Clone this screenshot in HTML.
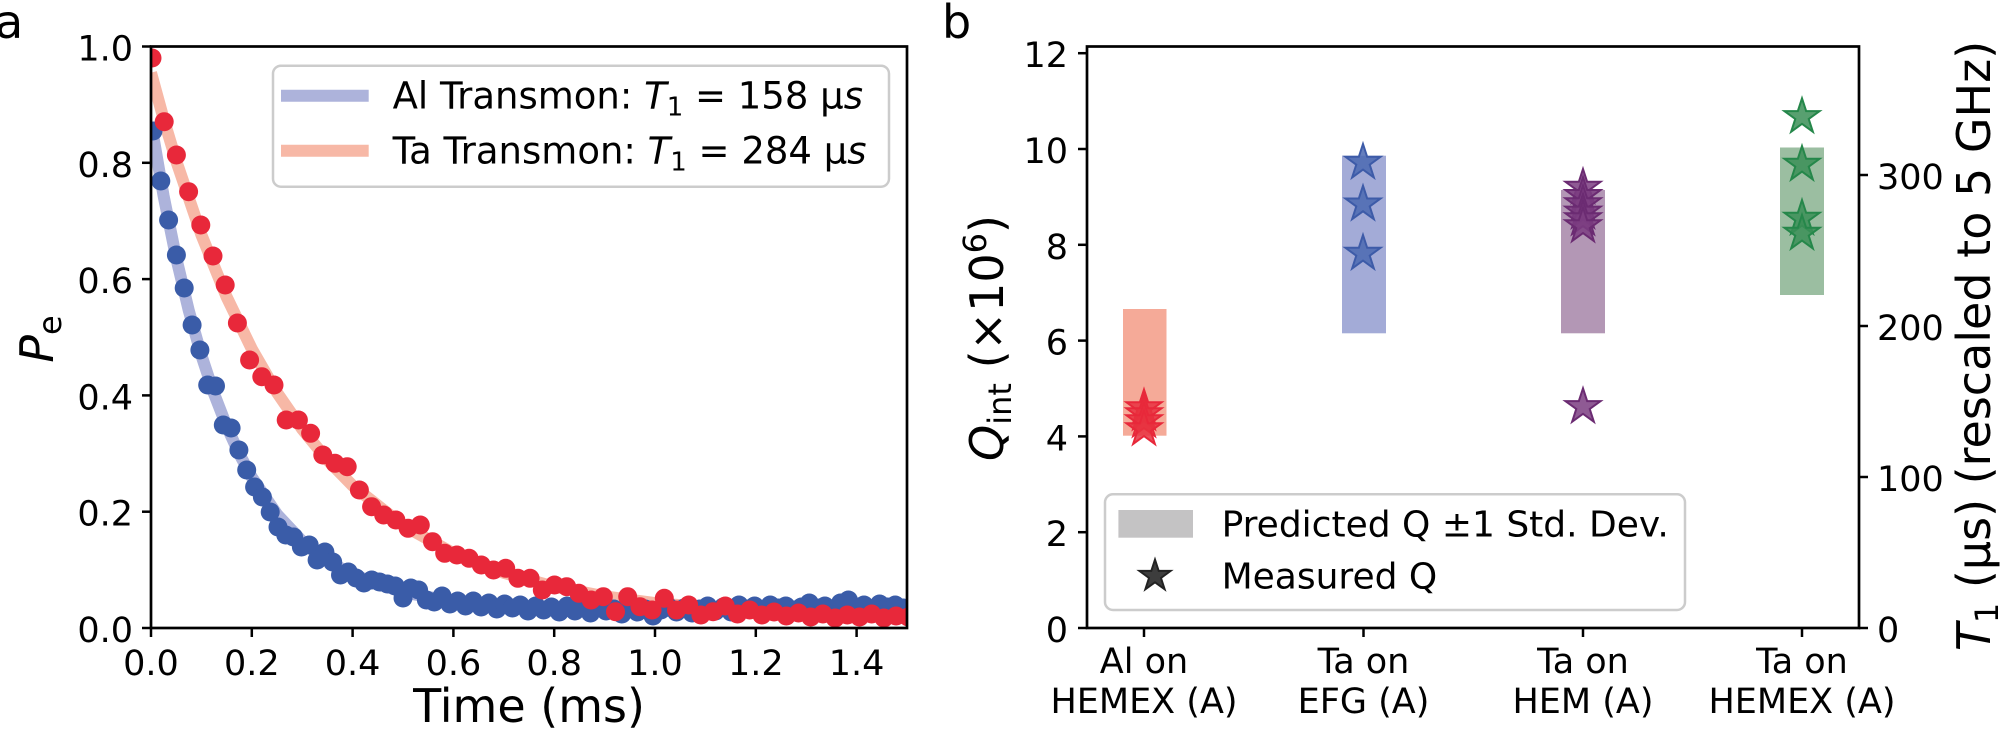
<!DOCTYPE html>
<html><head><meta charset="utf-8"><style>
html,body{margin:0;padding:0;background:#fff;}
svg{display:block;}
text{font-family:"DejaVu Sans","Liberation Sans",sans-serif;fill:#000;}
</style></head><body>
<svg width="2000" height="737" viewBox="0 0 2000 737" xmlns="http://www.w3.org/2000/svg">
<defs>
<clipPath id="ca"><rect x="151" y="46.5" width="756" height="581.5"/></clipPath>
<path id="st" d="M0,-18.5 L4.16,-5.72 L17.59,-5.72 L6.72,2.18 L10.87,14.97 L0,7.07 L-10.87,14.97 L-6.72,2.18 L-17.59,-5.72 L-4.16,-5.72 Z"/>
</defs>
<rect width="2000" height="737" fill="#fff"/>

<!-- Panel labels -->
<text x="-5" y="38" font-size="46">a</text>
<text x="942" y="38" font-size="46">b</text>

<!-- ===== Panel a ===== -->
<g clip-path="url(#ca)">
<polyline fill="none" stroke="#adb3db" stroke-width="12" points="151,123.2 163.6,195.9 176.2,257.9 188.8,310.6 201.4,355.4 214,393.6 226.6,426.1 239.2,453.7 251.8,477.3 277,514.3 302.2,541.2 327.4,560.6 352.6,574.7 403,592.3 453.4,601.5 503.8,606.4 554.2,608.9 655,610.9 907,611.7"/>
<polyline fill="none" stroke="#f7b8a6" stroke-width="12" points="151,72.7 163.6,118.8 176.2,160.9 201.4,234.9 226.6,296.9 251.8,349 277,392.6 302.2,429.2 327.4,459.9 352.6,485.6 403,525.3 453.4,553.2 503.8,572.8 554.2,586.6 604.6,596.3 655,603.1 755.8,611.3 907,616.5"/>
<g fill="#3a5ca8">
<circle cx="153.0" cy="131" r="9.5"/><circle cx="160.8" cy="181" r="9.5"/><circle cx="168.6" cy="220" r="9.5"/><circle cx="176.4" cy="255" r="9.5"/><circle cx="184.2" cy="288" r="9.5"/><circle cx="192.1" cy="325" r="9.5"/><circle cx="199.9" cy="350" r="9.5"/><circle cx="207.7" cy="385" r="9.5"/><circle cx="215.5" cy="386" r="9.5"/><circle cx="223.3" cy="425" r="9.5"/><circle cx="231.1" cy="428" r="9.5"/><circle cx="238.9" cy="450" r="9.5"/><circle cx="246.7" cy="470" r="9.5"/><circle cx="254.6" cy="487" r="9.5"/><circle cx="262.4" cy="497" r="9.5"/><circle cx="270.2" cy="512" r="9.5"/><circle cx="278.0" cy="527" r="9.5"/><circle cx="285.8" cy="535" r="9.5"/><circle cx="293.6" cy="537" r="9.5"/><circle cx="301.4" cy="547" r="9.5"/><circle cx="309.2" cy="545" r="9.5"/><circle cx="317.1" cy="560" r="9.5"/><circle cx="324.9" cy="552" r="9.5"/><circle cx="332.7" cy="562" r="9.5"/><circle cx="340.5" cy="575" r="9.5"/><circle cx="348.3" cy="572" r="9.5"/><circle cx="356.1" cy="578" r="9.5"/><circle cx="363.9" cy="583" r="9.5"/><circle cx="371.7" cy="580" r="9.5"/><circle cx="379.6" cy="582" r="9.5"/><circle cx="387.4" cy="584" r="9.5"/><circle cx="395.2" cy="586" r="9.5"/><circle cx="403.0" cy="598" r="9.5"/><circle cx="410.8" cy="588" r="9.5"/><circle cx="418.6" cy="590" r="9.5"/><circle cx="426.4" cy="600" r="9.5"/><circle cx="434.2" cy="602" r="9.5"/><circle cx="442.1" cy="596" r="9.5"/><circle cx="449.9" cy="604" r="9.5"/><circle cx="457.7" cy="601" r="9.5"/><circle cx="465.5" cy="606" r="9.5"/><circle cx="473.3" cy="601" r="9.5"/><circle cx="481.1" cy="607" r="9.5"/><circle cx="488.9" cy="603" r="9.5"/><circle cx="496.8" cy="609" r="9.5"/><circle cx="504.6" cy="604" r="9.5"/><circle cx="512.4" cy="608" r="9.5"/><circle cx="520.2" cy="605" r="9.5"/><circle cx="528.0" cy="611" r="9.5"/><circle cx="535.8" cy="606" r="9.5"/><circle cx="543.6" cy="610" r="9.5"/><circle cx="551.4" cy="607" r="9.5"/><circle cx="559.3" cy="612" r="9.5"/><circle cx="567.1" cy="606" r="9.5"/><circle cx="574.9" cy="611" r="9.5"/><circle cx="582.7" cy="608" r="9.5"/><circle cx="590.5" cy="613" r="9.5"/><circle cx="598.3" cy="607" r="9.5"/><circle cx="606.1" cy="611" r="9.5"/><circle cx="613.9" cy="609" r="9.5"/><circle cx="621.8" cy="614" r="9.5"/><circle cx="629.6" cy="608" r="9.5"/><circle cx="637.4" cy="612" r="9.5"/><circle cx="645.2" cy="609" r="9.5"/><circle cx="653.0" cy="616" r="9.5"/><circle cx="660.8" cy="610" r="9.5"/><circle cx="668.6" cy="607" r="9.5"/><circle cx="676.5" cy="612" r="9.5"/><circle cx="684.3" cy="608" r="9.5"/><circle cx="692.1" cy="613" r="9.5"/><circle cx="699.9" cy="609" r="9.5"/><circle cx="707.7" cy="606" r="9.5"/><circle cx="715.5" cy="611" r="9.5"/><circle cx="723.3" cy="607" r="9.5"/><circle cx="731.2" cy="612" r="9.5"/><circle cx="739.0" cy="605" r="9.5"/><circle cx="746.8" cy="609" r="9.5"/><circle cx="754.6" cy="606" r="9.5"/><circle cx="762.4" cy="610" r="9.5"/><circle cx="770.2" cy="605" r="9.5"/><circle cx="778.0" cy="608" r="9.5"/><circle cx="785.8" cy="606" r="9.5"/><circle cx="793.7" cy="610" r="9.5"/><circle cx="801.5" cy="607" r="9.5"/><circle cx="809.3" cy="603" r="9.5"/><circle cx="817.1" cy="608" r="9.5"/><circle cx="824.9" cy="606" r="9.5"/><circle cx="832.7" cy="609" r="9.5"/><circle cx="840.5" cy="603" r="9.5"/><circle cx="848.4" cy="600" r="9.5"/><circle cx="856.2" cy="607" r="9.5"/><circle cx="864.0" cy="605" r="9.5"/><circle cx="871.8" cy="609" r="9.5"/><circle cx="879.6" cy="604" r="9.5"/><circle cx="887.4" cy="607" r="9.5"/><circle cx="895.2" cy="605" r="9.5"/><circle cx="903.1" cy="608" r="9.5"/><circle cx="910.9" cy="607" r="9.5"/>
</g>
<g fill="#e8283a">
<circle cx="152.0" cy="58" r="9.5"/><circle cx="164.2" cy="121.7" r="9.5"/><circle cx="176.4" cy="155" r="9.5"/><circle cx="188.6" cy="191.7" r="9.5"/><circle cx="200.8" cy="225" r="9.5"/><circle cx="213.0" cy="256" r="9.5"/><circle cx="225.2" cy="285" r="9.5"/><circle cx="237.4" cy="323" r="9.5"/><circle cx="249.6" cy="360" r="9.5"/><circle cx="261.8" cy="376.7" r="9.5"/><circle cx="274.0" cy="385" r="9.5"/><circle cx="286.2" cy="420" r="9.5"/><circle cx="298.4" cy="420" r="9.5"/><circle cx="310.6" cy="433.3" r="9.5"/><circle cx="322.8" cy="455" r="9.5"/><circle cx="335.0" cy="463.3" r="9.5"/><circle cx="347.2" cy="466.7" r="9.5"/><circle cx="359.4" cy="490" r="9.5"/><circle cx="371.6" cy="506.7" r="9.5"/><circle cx="383.7" cy="515" r="9.5"/><circle cx="395.9" cy="520" r="9.5"/><circle cx="408.1" cy="528.3" r="9.5"/><circle cx="420.3" cy="525" r="9.5"/><circle cx="432.5" cy="541.7" r="9.5"/><circle cx="444.7" cy="553.3" r="9.5"/><circle cx="456.9" cy="555" r="9.5"/><circle cx="469.1" cy="558.3" r="9.5"/><circle cx="481.3" cy="565" r="9.5"/><circle cx="493.5" cy="570" r="9.5"/><circle cx="505.7" cy="568.3" r="9.5"/><circle cx="517.9" cy="578.3" r="9.5"/><circle cx="530.1" cy="578.3" r="9.5"/><circle cx="542.3" cy="590" r="9.5"/><circle cx="554.5" cy="585" r="9.5"/><circle cx="566.7" cy="586.7" r="9.5"/><circle cx="578.9" cy="593.3" r="9.5"/><circle cx="591.1" cy="600" r="9.5"/><circle cx="603.3" cy="596.7" r="9.5"/><circle cx="615.5" cy="611.7" r="9.5"/><circle cx="627.7" cy="596.7" r="9.5"/><circle cx="639.9" cy="606.7" r="9.5"/><circle cx="652.1" cy="610" r="9.5"/><circle cx="664.3" cy="598.3" r="9.5"/><circle cx="676.5" cy="610" r="9.5"/><circle cx="688.7" cy="605" r="9.5"/><circle cx="700.9" cy="615" r="9.5"/><circle cx="713.1" cy="611.7" r="9.5"/><circle cx="725.3" cy="606" r="9.5"/><circle cx="737.5" cy="614" r="9.5"/><circle cx="749.7" cy="610" r="9.5"/><circle cx="761.9" cy="615" r="9.5"/><circle cx="774.1" cy="612" r="9.5"/><circle cx="786.3" cy="616" r="9.5"/><circle cx="798.5" cy="613" r="9.5"/><circle cx="810.7" cy="617" r="9.5"/><circle cx="822.9" cy="614" r="9.5"/><circle cx="835.1" cy="618" r="9.5"/><circle cx="847.3" cy="615" r="9.5"/><circle cx="859.5" cy="617" r="9.5"/><circle cx="871.7" cy="614" r="9.5"/><circle cx="883.9" cy="618" r="9.5"/><circle cx="896.1" cy="616" r="9.5"/><circle cx="908.3" cy="617" r="9.5"/>
</g>
</g>

<!-- Panel a axes -->
<rect x="151" y="46.5" width="756" height="581.5" fill="none" stroke="#000" stroke-width="2.7"/>
<g stroke="#000" stroke-width="2.5">
<line x1="142" y1="628" x2="151" y2="628"/><line x1="142" y1="511.7" x2="151" y2="511.7"/><line x1="142" y1="395.4" x2="151" y2="395.4"/><line x1="142" y1="279.1" x2="151" y2="279.1"/><line x1="142" y1="162.8" x2="151" y2="162.8"/><line x1="142" y1="46.5" x2="151" y2="46.5"/>
<line x1="151" y1="628" x2="151" y2="637"/><line x1="251.8" y1="628" x2="251.8" y2="637"/><line x1="352.6" y1="628" x2="352.6" y2="637"/><line x1="453.4" y1="628" x2="453.4" y2="637"/><line x1="554.2" y1="628" x2="554.2" y2="637"/><line x1="655" y1="628" x2="655" y2="637"/><line x1="755.8" y1="628" x2="755.8" y2="637"/><line x1="856.6" y1="628" x2="856.6" y2="637"/>
</g>
<g font-size="35" text-anchor="end">
<text x="133" y="642">0.0</text><text x="133" y="525.7">0.2</text><text x="133" y="409.4">0.4</text><text x="133" y="293.1">0.6</text><text x="133" y="176.8">0.8</text><text x="133" y="60.5">1.0</text>
</g>
<g font-size="35" text-anchor="middle">
<text x="151" y="675">0.0</text><text x="251.8" y="675">0.2</text><text x="352.6" y="675">0.4</text><text x="453.4" y="675">0.6</text><text x="554.2" y="675">0.8</text><text x="655" y="675">1.0</text><text x="755.8" y="675">1.2</text><text x="856.6" y="675">1.4</text>
</g>
<text x="529" y="722" font-size="46" text-anchor="middle">Time (ms)</text>
<text transform="translate(53,339) rotate(-90)" font-size="46" text-anchor="middle"><tspan font-style="italic">P</tspan><tspan font-size="32" dy="8">e</tspan></text>

<!-- Legend a -->
<rect x="273" y="65.7" width="616" height="121" rx="8" ry="8" fill="#fff" fill-opacity="0.8" stroke="#cccccc" stroke-width="2.5"/>
<line x1="281" y1="95.7" x2="368.7" y2="95.7" stroke="#adb3db" stroke-width="12"/>
<line x1="281" y1="150.7" x2="368.7" y2="150.7" stroke="#f7b8a6" stroke-width="12"/>
<text x="392.6" y="108.3" font-size="37" xml:space="preserve">Al Transmon: <tspan font-style="italic">T</tspan><tspan font-size="26" dy="7">1</tspan><tspan dy="-7"> = 158 μ</tspan><tspan font-style="italic">s</tspan></text>
<text x="392.6" y="163.3" font-size="37" xml:space="preserve">Ta Transmon: <tspan font-style="italic">T</tspan><tspan font-size="26" dy="7">1</tspan><tspan dy="-7"> = 284 μ</tspan><tspan font-style="italic">s</tspan></text>

<!-- ===== Panel b ===== -->
<rect x="1123" y="309" width="43.5" height="126.7" fill="#f5aa98"/>
<rect x="1342" y="155.7" width="44" height="177.6" fill="#a3abd7"/>
<rect x="1561" y="190" width="44" height="143.3" fill="#b397b5"/>
<rect x="1780" y="147.5" width="44" height="147.5" fill="#9bbea1"/>

<g fill="#e8313f" fill-opacity="0.85" stroke="#e8283a" stroke-width="2">
<use href="#st" x="1144" y="408"/><use href="#st" x="1144" y="414"/><use href="#st" x="1144" y="421"/><use href="#st" x="1144" y="429"/>
</g>
<g fill="#4b68b2" fill-opacity="0.85" stroke="#3d5ba8" stroke-width="2">
<use href="#st" x="1363" y="162.5"/><use href="#st" x="1363" y="204.2"/><use href="#st" x="1363" y="253.5"/>
</g>
<g fill="#7b3d81" fill-opacity="0.85" stroke="#6b2b72" stroke-width="2">
<use href="#st" x="1583" y="187.5"/><use href="#st" x="1583" y="195.7"/><use href="#st" x="1583" y="204"/><use href="#st" x="1583" y="212.4"/><use href="#st" x="1583" y="219"/><use href="#st" x="1583" y="226"/><use href="#st" x="1583" y="406.8"/>
</g>
<g fill="#3b8f57" fill-opacity="0.85" stroke="#25874a" stroke-width="2">
<use href="#st" x="1802" y="116.8"/><use href="#st" x="1802" y="164.5"/><use href="#st" x="1802" y="218.5"/><use href="#st" x="1802" y="233.5"/>
</g>

<rect x="1087" y="46.5" width="772" height="581.5" fill="none" stroke="#000" stroke-width="2.7"/>
<g stroke="#000" stroke-width="2.5">
<line x1="1078" y1="628" x2="1087" y2="628"/><line x1="1078" y1="532.2" x2="1087" y2="532.2"/><line x1="1078" y1="436.4" x2="1087" y2="436.4"/><line x1="1078" y1="340.6" x2="1087" y2="340.6"/><line x1="1078" y1="244.8" x2="1087" y2="244.8"/><line x1="1078" y1="149" x2="1087" y2="149"/><line x1="1078" y1="53.2" x2="1087" y2="53.2"/>
<line x1="1859" y1="628" x2="1868" y2="628"/><line x1="1859" y1="477" x2="1868" y2="477"/><line x1="1859" y1="326" x2="1868" y2="326"/><line x1="1859" y1="175" x2="1868" y2="175"/>
<line x1="1144" y1="628" x2="1144" y2="637"/><line x1="1363.5" y1="628" x2="1363.5" y2="637"/><line x1="1583" y1="628" x2="1583" y2="637"/><line x1="1802" y1="628" x2="1802" y2="637"/>
</g>
<g font-size="35" text-anchor="end">
<text x="1068" y="642">0</text><text x="1068" y="546.2">2</text><text x="1068" y="450.4">4</text><text x="1068" y="354.6">6</text><text x="1068" y="258.8">8</text><text x="1068" y="163">10</text><text x="1068" y="67.2">12</text>
</g>
<g font-size="35">
<text x="1877" y="642">0</text><text x="1877" y="491">100</text><text x="1877" y="340">200</text><text x="1877" y="189">300</text>
</g>
<g font-size="35" text-anchor="middle">
<text x="1144" y="673">Al on</text><text x="1144" y="713">HEMEX (A)</text>
<text x="1363.5" y="673">Ta on</text><text x="1363.5" y="713">EFG (A)</text>
<text x="1583" y="673">Ta on</text><text x="1583" y="713">HEM (A)</text>
<text x="1802" y="673">Ta on</text><text x="1802" y="713">HEMEX (A)</text>
</g>
<text transform="translate(1003,338) rotate(-90)" font-size="46" text-anchor="middle" xml:space="preserve"><tspan font-style="italic">Q</tspan><tspan font-size="32" dy="8">int</tspan><tspan dy="-8"> (×10</tspan><tspan font-size="32" dy="-17">6</tspan><tspan dy="17">)</tspan></text>
<text transform="translate(1990,346) rotate(-90)" font-size="46" text-anchor="middle" xml:space="preserve"><tspan font-style="italic">T</tspan><tspan font-size="32" dy="8">1</tspan><tspan dy="-8"> (μs) (rescaled to 5 GHz)</tspan></text>

<!-- Legend b -->
<rect x="1105" y="494.3" width="580" height="115.7" rx="8" ry="8" fill="#fff" fill-opacity="0.8" stroke="#cccccc" stroke-width="2.5"/>
<rect x="1118.4" y="510" width="74.6" height="27.7" fill="#c4c3c4"/>
<g transform="translate(1155,576) scale(0.89)"><use href="#st" fill="#333" fill-opacity="0.95" stroke="#222" stroke-width="2.2"/></g>
<text x="1221.6" y="536.5" font-size="36">Predicted Q ±1 Std. Dev.</text>
<text x="1221.6" y="588.5" font-size="36">Measured Q</text>
</svg>
</body></html>
